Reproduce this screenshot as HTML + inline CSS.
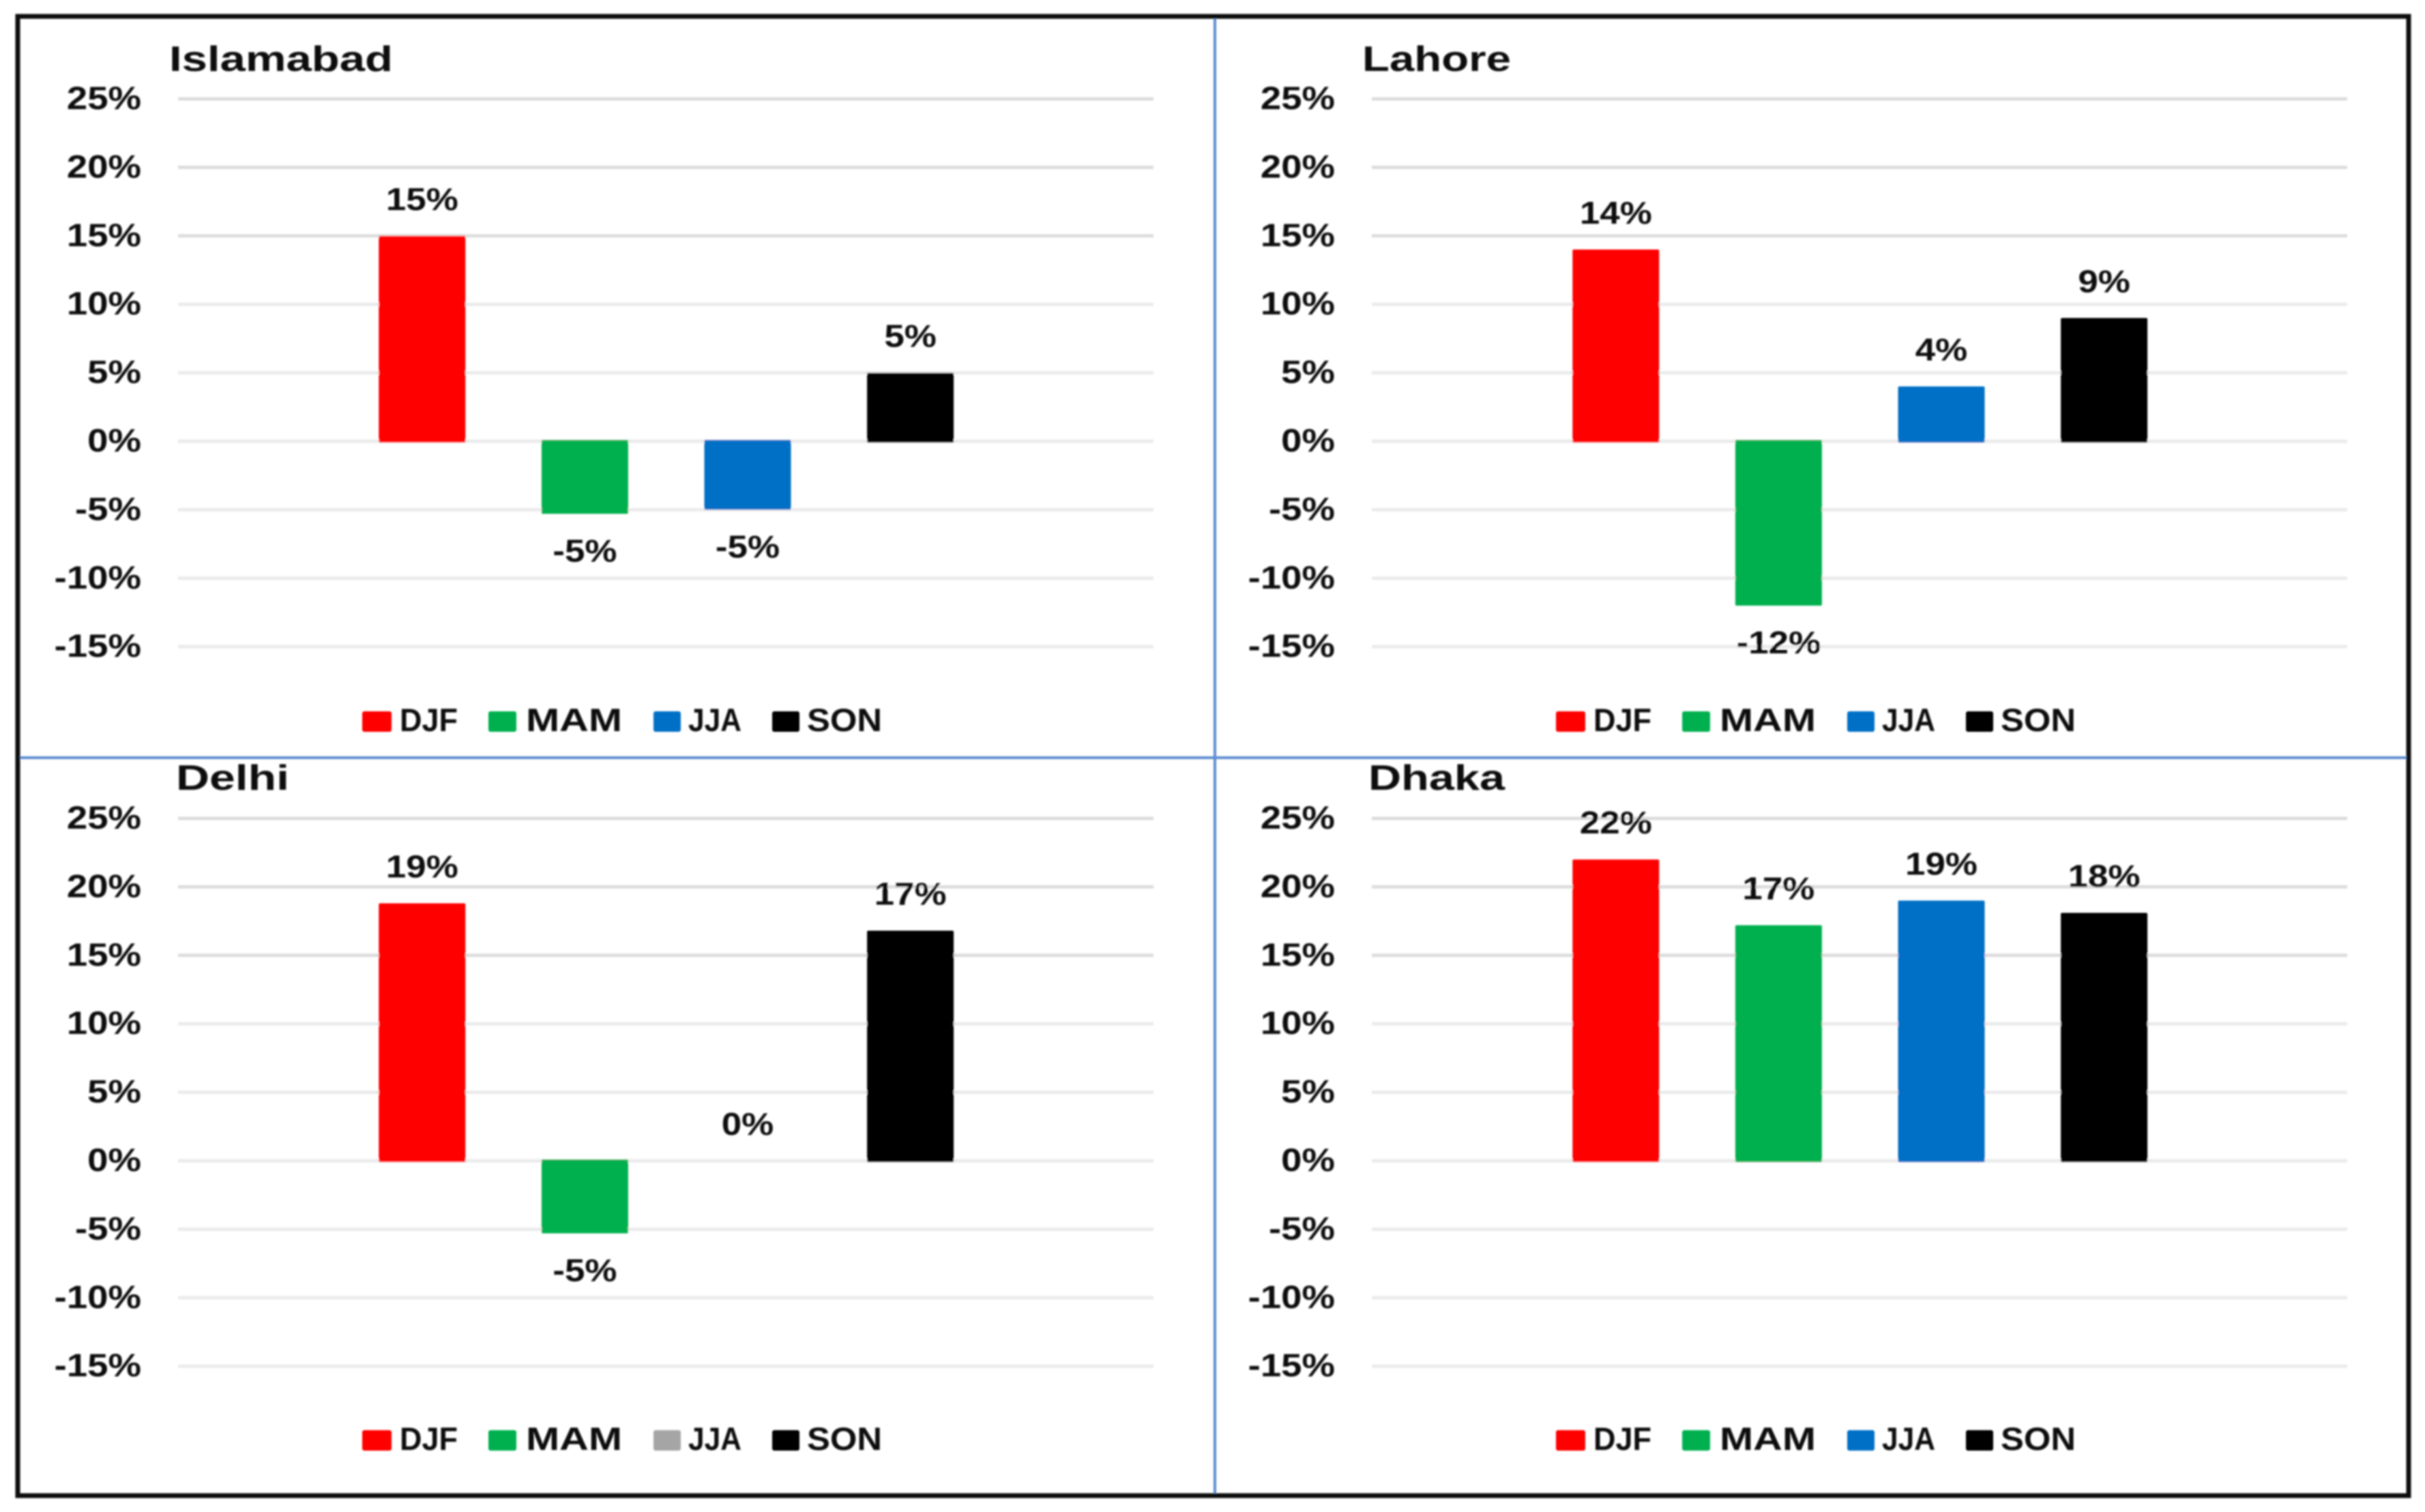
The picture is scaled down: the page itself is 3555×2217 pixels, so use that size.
<!DOCTYPE html>
<html lang="en">
<head>
<meta charset="utf-8">
<title>Seasonal percentage change by city</title>
<style>
html,body{margin:0;padding:0;background:#fff;width:3555px;height:2217px;overflow:hidden}
svg{display:block}
text{font-family:"Liberation Sans",Arial,sans-serif;font-weight:700;fill:#0c0c0c}
</style>
</head>
<body>
<svg id="figure" xmlns="http://www.w3.org/2000/svg" width="3555" height="2217" viewBox="0 0 3555 2217">
  <defs>
    <filter id="soft" x="-5%" y="-5%" width="110%" height="110%"><feGaussianBlur stdDeviation="1.2"/></filter>
  </defs>
  <rect width="3555" height="2217" fill="#ffffff"/>
  <g id="charts" filter="url(#soft)"></g>
  <g filter="url(#soft)">
    <line x1="1781" y1="26" x2="1781" y2="2192" stroke="#5b8ad0" stroke-width="4"/>
    <line x1="26" y1="1111" x2="3531" y2="1111" stroke="#5b8ad0" stroke-width="4"/>
    <rect x="26" y="24" width="3505" height="2169" fill="none" stroke="#0a0a0a" stroke-width="7"/>
  </g>
</svg>
<script>
const categories = ["DJF", "MAM", "JJA", "SON"];
const seriesColors = ["#ff0000", "#00b04f", "#0070c6", "#000000"];
const tickValues = [25, 20, 15, 10, 5, 0, -5, -10, -15];
const tickLabels = ["25%", "20%", "15%", "10%", "5%", "0%", "-5%", "-10%", "-15%"];

const islamabadValues = [15, -5.3, -5, 5];
const islamabadLabels = ["15%", "-5%", "-5%", "5%"];
const lahoreValues = [14, -12, 4, 9];
const lahoreLabels = ["14%", "-12%", "4%", "9%"];
const delhiValues = [18.8, -5.3, 0, 16.8];
const delhiLabels = ["19%", "-5%", "0%", "17%"];
const dhakaValues = [22, 17.2, 19, 18.1];
const dhakaLabels = ["22%", "17%", "19%", "18%"];

const SVG_NS = "http://www.w3.org/2000/svg";
const layer = document.getElementById("charts");

const PLOT_WIDTH = 1430;
const SLOT_WIDTH = 238.6;
const FIRST_SLOT_CENTER = 357.8;
const BAR_WIDTH = 127;
const PX_PER_PERCENT = 20.08;
const LABEL_GAP = 54;
const BASELINE_OVERHANG = 2;

const panels = [
  {key: "islamabad", title: "Islamabad", titleX: 248, titleW: 328, titleY: 104, left: 261, top25: 145, values: islamabadValues, labels: islamabadLabels, legendDy: 0, legendDx: 0, jjaColor: null},
  {key: "lahore", title: "Lahore", titleX: 1997, titleW: 218, titleY: 104, left: 2011, top25: 145, values: lahoreValues, labels: lahoreLabels, legendDy: 0, legendDx: 1750, jjaColor: null},
  {key: "delhi", title: "Delhi", titleX: 258, titleW: 166, titleY: 1158, left: 261, top25: 1200, values: delhiValues, labels: delhiLabels, legendDy: 1054, legendDx: 0, jjaColor: "#a5a5a5"},
  {key: "dhaka", title: "Dhaka", titleX: 2006, titleW: 200, titleY: 1158, left: 2011, top25: 1200, values: dhakaValues, labels: dhakaLabels, legendDy: 1054, legendDx: 1750, jjaColor: null}
];

const legendSlots = [
  {swatchX: 531, swatchW: 43, textX: 586, textW: 85},
  {swatchX: 716, swatchW: 41, textX: 771, textW: 141},
  {swatchX: 958, swatchW: 40, textX: 1009, textW: 78},
  {swatchX: 1132, swatchW: 40, textX: 1183, textW: 110}
];

function xScale(index, panel) {
  return panel.left + FIRST_SLOT_CENTER + SLOT_WIDTH * index;
}

function yScale(value, panel) {
  return panel.top25 + (25 - value) * PX_PER_PERCENT;
}

function addText(parent, name, content, x, y, size, anchor, ratio, fixedWidth) {
  const el = document.createElementNS(SVG_NS, "text");
  
  
  el.setAttribute("x", x);
  el.setAttribute("y", y);
  el.setAttribute("font-size", size);
  el.setAttribute("text-anchor", anchor);
  el.textContent = content;
  parent.appendChild(el);
  const natural = el.getComputedTextLength();
  const width = fixedWidth || natural * ratio;
  el.setAttribute("textLength", width.toFixed(1));
  el.setAttribute("lengthAdjust", "spacingAndGlyphs");
  return el;
}

function drawPanel(panel) {
  const group = document.createElementNS(SVG_NS, "g");
  
  
  layer.appendChild(group);

  addText(group, panel.key + "-title", panel.title, panel.titleX, panel.titleY, 52, "start", 1, panel.titleW);

  tickValues.forEach(function (tick, i) {
    const y = yScale(tick, panel);
    const line = document.createElementNS(SVG_NS, "line");
    
    
    line.setAttribute("x1", panel.left);
    line.setAttribute("x2", panel.left + PLOT_WIDTH);
    line.setAttribute("y1", y);
    line.setAttribute("y2", y);
    line.setAttribute("stroke", i < 3 ? "#dddddd" : "#ebebeb");
    line.setAttribute("stroke-width", "5");
    group.appendChild(line);
    addText(group, panel.key + "-y-tick-label", tickLabels[i], panel.left - 54, y + 15, 47, "end", 1.16);
  });

  panel.values.forEach(function (value, i) {
    const cx = xScale(i, panel);
    const y0 = yScale(0, panel);
    const yv = yScale(value, panel);
    const bar = document.createElementNS(SVG_NS, "rect");
    
    
    bar.setAttribute("x", cx - BAR_WIDTH / 2);
    bar.setAttribute("y", Math.min(y0, yv) - (value === 0 ? 0 : (value > 0 ? 0 : BASELINE_OVERHANG)));
    bar.setAttribute("width", BAR_WIDTH);
    bar.setAttribute("height", value === 0 ? 0 : Math.abs(yv - y0) + BASELINE_OVERHANG);
    bar.setAttribute("rx", "2");
    bar.setAttribute("fill", seriesColors[i]);
    group.appendChild(bar);

    const labelCenter = value < 0 ? yv + LABEL_GAP : yv - LABEL_GAP;
    addText(group, panel.key + "-value-label-" + categories[i].toLowerCase(), panel.labels[i], cx, labelCenter + 16, 46, "middle", 1.15);
  });

  categories.forEach(function (category, i) {
    const slot = legendSlots[i];
    const swatch = document.createElementNS(SVG_NS, "rect");
    
    
    swatch.setAttribute("x", slot.swatchX + panel.legendDx);
    swatch.setAttribute("y", 1043 + panel.legendDy);
    swatch.setAttribute("width", slot.swatchW);
    swatch.setAttribute("height", 30);
    swatch.setAttribute("rx", "3");
    swatch.setAttribute("fill", (i === 2 && panel.jjaColor) ? panel.jjaColor : seriesColors[i]);
    group.appendChild(swatch);
    addText(group, panel.key + "-legend-label-" + category.toLowerCase(), category, slot.textX + panel.legendDx, 1072 + panel.legendDy, 47, "start", 1, slot.textW);
  });
}

panels.forEach(drawPanel);
</script>
</body>
</html>
